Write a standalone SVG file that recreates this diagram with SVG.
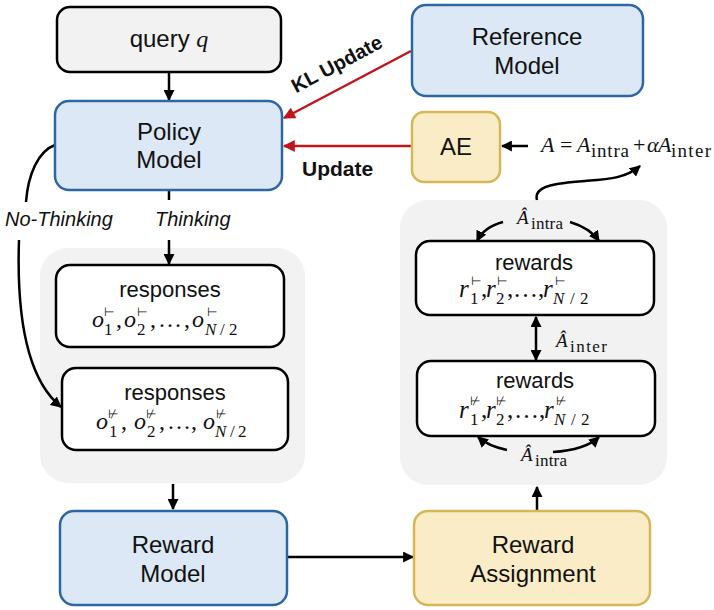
<svg xmlns="http://www.w3.org/2000/svg" width="714" height="610" viewBox="0 0 714 610">
<style>
.lbl{font-family:"Liberation Sans",Arial,sans-serif;font-size:24px;text-anchor:middle;fill:#111}
.sm{font-size:22px}
.bw{fill:#fff;stroke:#000;stroke-width:2.5}
.bg{fill:#f2f2f2;stroke:#000;stroke-width:2.5}
.bb{fill:#dce8f5;stroke:#2d67a3;stroke-width:2.5}
.by{fill:#faecc6;stroke:#d6b656;stroke-width:2.5}
.grp{fill:#f2f2f2}
.c{fill:none;stroke:#000;stroke-width:2.5}
.r{fill:none;stroke:#c0151b;stroke-width:2.5}
.bold{font-family:"Liberation Sans",Arial,sans-serif;font-weight:bold;fill:#111}
.it{font-family:"Liberation Sans",Arial,sans-serif;font-style:italic;font-size:20px;fill:#111}
.m{font-family:"Liberation Serif","Times New Roman",serif;fill:#111;font-style:italic}
.n{font-style:normal}
.sp{font-family:"DejaVu Sans",sans-serif;font-style:normal}
</style>
<defs>
<marker id="ah" viewBox="0 0 10 10" markerUnits="userSpaceOnUse" markerWidth="11" markerHeight="11" refX="9" refY="5" orient="auto"><path d="M0,0 L10,5 L0,10 z" fill="#000"/></marker>
<marker id="ahs" viewBox="0 0 10 10" markerUnits="userSpaceOnUse" markerWidth="11" markerHeight="11" refX="9" refY="5" orient="auto-start-reverse"><path d="M0,0 L10,5 L0,10 z" fill="#000"/></marker>
<marker id="ar" viewBox="0 0 10 10" markerUnits="userSpaceOnUse" markerWidth="13" markerHeight="12" refX="9" refY="5" orient="auto"><path d="M0,0 L10,5 L0,10 z" fill="#c0151b"/></marker>
</defs>

<g id="group-responses"><rect class="grp" x="40" y="248" width="265" height="235" rx="28"/></g>
<g id="group-rewards"><rect class="grp" x="400" y="200" width="267" height="285" rx="28"/></g>

<g id="connectors">
<path class="c" d="M169,72 L169,100" marker-end="url(#ah)"/>
<path class="r" d="M411,51 L284,118" marker-end="url(#ar)"/>
<path class="r" d="M411,146 L284,146" marker-end="url(#ar)"/>
<path class="c" d="M528,146 L502,146" marker-end="url(#ah)"/>
<path class="c" d="M537,200 C533,186 556,183 585,181 C610,179 626,178 640,166" marker-end="url(#ah)"/>
<path class="c" d="M169,190 L169,200"/>
<path class="c" d="M169,240 L169,264" marker-end="url(#ah)"/>
<path class="c" d="M55,145 C38,151 28,175 26,202"/>
<path class="c" d="M19,240 C17,300 22,375 61,407" marker-end="url(#ah)"/>
<path class="c" d="M173,484 L173,509" marker-end="url(#ah)"/>
<path class="c" d="M287,557 L413,557" marker-end="url(#ah)"/>
<path class="c" d="M537,510 L537,487" marker-end="url(#ah)"/>
<path class="c" d="M536,317 L536,360" marker-start="url(#ahs)" marker-end="url(#ahs)"/>
<path class="c" d="M503,222 Q484,227 477,241" marker-end="url(#ah)"/>
<path class="c" d="M570,222 Q590,228 599,241" marker-end="url(#ah)"/>
<path class="c" d="M507,450 Q488,446 478,437" marker-end="url(#ah)"/>
<path class="c" d="M553,452 Q585,450 599,437" marker-end="url(#ah)"/>
</g>

<g id="query">
<rect class="bg" x="57" y="7" width="224" height="65" rx="13"/>
<text class="lbl" x="169" y="47">query <tspan style="font-family:'Liberation Serif',serif;font-style:italic">q</tspan></text>
</g>
<g id="policy-model">
<rect class="bb" x="55" y="101" width="227" height="89" rx="14"/>
<text class="lbl" x="169" y="140">Policy</text>
<text class="lbl" x="169" y="168">Model</text>
</g>
<g id="reference-model">
<rect class="bb" x="412" y="5" width="231" height="91" rx="14"/>
<text class="lbl" x="527" y="45">Reference</text>
<text class="lbl" x="527" y="74">Model</text>
</g>
<g id="ae">
<rect class="by" x="412" y="112" width="88" height="70" rx="12"/>
<text class="lbl" x="456" y="155">AE</text>
</g>
<g id="labels">
<text class="bold" font-size="20" text-anchor="middle" transform="translate(340,70) rotate(-28)">KL Update</text>
<text class="bold" font-size="21" x="302" y="176">Update</text>
<text class="it" x="5" y="226">No-Thinking</text>
<text class="it" x="155" y="226">Thinking</text>
<text class="m" font-size="22"><tspan x="541" y="152">A</tspan><tspan class="n" x="560" y="152">=</tspan><tspan x="577" y="152">A</tspan><tspan class="n" x="591" y="157" font-size="19" textLength="38">intra</tspan><tspan class="n" x="633" y="152">+</tspan><tspan x="647" y="152">α</tspan><tspan x="658" y="152">A</tspan><tspan class="n" x="671" y="157" font-size="19" textLength="40">inter</tspan></text>
<text class="m" font-size="19"><tspan x="517" y="224">Â</tspan><tspan class="n" font-size="17" x="531" y="229" textLength="32">intra</tspan></text>
<text class="m" font-size="19"><tspan x="556" y="347">Â</tspan><tspan class="n" font-size="17" x="570" y="352" textLength="37">inter</tspan></text>
<text class="m" font-size="19"><tspan x="521" y="461">Â</tspan><tspan class="n" font-size="17" x="535" y="466" textLength="32">intra</tspan></text>
</g>

<g id="responses-thinking">
<rect class="bw" x="56" y="265" width="228" height="82" rx="14"/>
<text class="lbl sm" x="170" y="297">responses</text>
<text class="m" font-size="24"><tspan x="92" y="327">o</tspan><tspan class="n" font-size="17" x="104" y="335">1</tspan><tspan class="sp" font-size="12" x="104" y="316">⊢</tspan><tspan class="n" x="116" y="327">,</tspan><tspan x="124" y="327">o</tspan><tspan class="n" font-size="17" x="137" y="335">2</tspan><tspan class="sp" font-size="12" x="137" y="316">⊢</tspan><tspan class="n" x="150" y="327">,</tspan><tspan class="n" x="158" y="327">…</tspan><tspan class="n" x="184" y="327">,</tspan><tspan x="192" y="327">o</tspan><tspan font-size="17" x="205" y="335">N</tspan><tspan class="n" font-size="17" x="220" y="335">/</tspan><tspan class="n" font-size="17" x="229" y="335">2</tspan><tspan class="sp" font-size="12" x="207" y="316">⊢</tspan></text>
</g>
<g id="responses-nothinking">
<rect class="bw" x="62" y="368" width="226" height="82" rx="14"/>
<text class="lbl sm" x="175" y="400">responses</text>
<text class="m" font-size="24"><tspan x="96" y="429">o</tspan><tspan class="n" font-size="17" x="109" y="437">1</tspan><tspan class="sp" font-size="12" x="108" y="418">⊬</tspan><tspan class="n" x="121" y="429">,</tspan><tspan x="134" y="429">o</tspan><tspan class="n" font-size="17" x="147" y="437">2</tspan><tspan class="sp" font-size="12" x="146" y="418">⊬</tspan><tspan class="n" x="159" y="429">,</tspan><tspan class="n" x="167" y="429">…</tspan><tspan class="n" x="191" y="429">,</tspan><tspan x="203" y="429">o</tspan><tspan font-size="17" x="215" y="437">N</tspan><tspan class="n" font-size="17" x="230" y="437">/</tspan><tspan class="n" font-size="17" x="238" y="437">2</tspan><tspan class="sp" font-size="12" x="216" y="418">⊬</tspan></text>
</g>
<g id="rewards-thinking">
<rect class="bw" x="416" y="241" width="238" height="74" rx="14"/>
<text class="lbl sm" x="534" y="270">rewards</text>
<text class="m" font-size="25"><tspan x="459" y="297">r</tspan><tspan class="n" font-size="17" x="470" y="304">1</tspan><tspan class="sp" font-size="12" x="471" y="285">⊢</tspan><tspan class="n" x="481" y="297">,</tspan><tspan x="486" y="297">r</tspan><tspan class="n" font-size="17" x="496" y="304">2</tspan><tspan class="sp" font-size="12" x="497" y="285">⊢</tspan><tspan class="n" x="507" y="297">,</tspan><tspan class="n" x="513" y="297">…</tspan><tspan class="n" x="538" y="297">,</tspan><tspan x="543" y="297">r</tspan><tspan font-size="17" x="553" y="304">N</tspan><tspan class="n" font-size="17" x="570" y="304">/</tspan><tspan class="n" font-size="17" x="580" y="304">2</tspan><tspan class="sp" font-size="12" x="555" y="285">⊢</tspan></text>
</g>
<g id="rewards-nothinking">
<rect class="bw" x="417" y="361" width="238" height="75" rx="14"/>
<text class="lbl sm" x="535" y="388">rewards</text>
<text class="m" font-size="25"><tspan x="459" y="418">r</tspan><tspan class="n" font-size="17" x="470" y="425">1</tspan><tspan class="sp" font-size="12" x="470" y="405">⊬</tspan><tspan class="n" x="481" y="418">,</tspan><tspan x="486" y="418">r</tspan><tspan class="n" font-size="17" x="496" y="425">2</tspan><tspan class="sp" font-size="12" x="496" y="405">⊬</tspan><tspan class="n" x="507" y="418">,</tspan><tspan class="n" x="514" y="418">…</tspan><tspan class="n" x="539" y="418">,</tspan><tspan x="544" y="418">r</tspan><tspan font-size="17" x="554" y="425">N</tspan><tspan class="n" font-size="17" x="571" y="425">/</tspan><tspan class="n" font-size="17" x="581" y="425">2</tspan><tspan class="sp" font-size="12" x="556" y="405">⊬</tspan></text>
</g>
<g id="reward-model">
<rect class="bb" x="60" y="511" width="227" height="94" rx="14"/>
<text class="lbl" x="173" y="553">Reward</text>
<text class="lbl" x="173" y="582">Model</text>
</g>
<g id="reward-assignment">
<rect class="by" x="414" y="511" width="236" height="94" rx="14"/>
<text class="lbl" x="533" y="553">Reward</text>
<text class="lbl" x="533" y="582">Assignment</text>
</g>
</svg>
